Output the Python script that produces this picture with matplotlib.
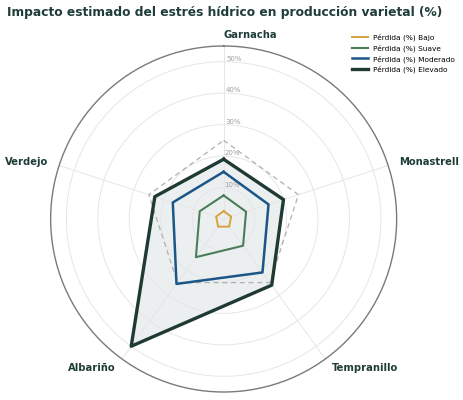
import numpy as np
import matplotlib
matplotlib.use("Agg")
import matplotlib.pyplot as plt

# datos
variedades = ["Garnacha", "Monastrell", "Tempranillo", "Albariño", "Verdejo"]
bajo = [2.5, 2.5, 3, 3, 2.5]
suave = [7.5, 7.5, 10.5, 15, 8]
moderado = [15, 15, 21, 25.5, 17]
elevado = [19, 20, 26, 50, 23]
umbral = [25, 25, 25, 25, 25]
r_ticks = [10, 20, 30, 40, 50]
r_labels = ["10%", "20%", "30%", "40%", "50%"]

series = [
    ("Pérdida (%) Bajo", bajo, "#d4a23f", 1.4),
    ("Pérdida (%) Suave", suave, "#4c7d5a", 1.5),
    ("Pérdida (%) Moderado", moderado, "#1c5689", 1.8),
    ("Pérdida (%) Elevado", elevado, "#1e3a33", 2.4),
]

n = len(variedades)
angulos = np.linspace(0, 2 * np.pi, n, endpoint=False)
cerrar = lambda v: list(v) + [v[0]]
ang_c = cerrar(angulos)

fig = plt.figure(figsize=(4.64, 4.0), dpi=100)
ax = fig.add_axes([0.109, 0.02, 0.746, 0.865], projection="polar")
ax.set_theta_offset(np.pi / 2)
ax.set_theta_direction(-1)
ax.set_ylim(0, 55)

# relleno del escenario elevado
ax.fill(ang_c, cerrar(elevado), color="#e6ebeb", alpha=0.8, zorder=1)
# umbral de referencia
ax.plot(ang_c, cerrar(umbral), color="#b0b0b0", lw=0.9, ls=(0, (4, 3)), zorder=2)

for nombre, vals, col, lw in series:
    ax.plot(ang_c, cerrar(vals), color=col, lw=lw, label=nombre, zorder=3)

ax.set_xticks(angulos)
ax.set_xticklabels([])
ax.set_yticks(r_ticks)
ax.set_yticklabels(r_labels, fontsize=5, color="#a0a0a0")
ax.set_rlabel_position(1)
ax.grid(color="#e6e6e6", lw=0.7)
ax.spines["polar"].set_color("#7a7a7a")
ax.spines["polar"].set_linewidth(1.0)

for a, txt in zip(angulos, variedades):
    ha = "left" if a < np.pi - 1e-6 else "right"
    ax.text(a, 58.5, txt, ha=ha, va="center", fontsize=7.2, fontweight="bold",
            color="#1f3d38")

fig.text(0.015, 0.969, "Impacto estimado del estrés hídrico en producción varietal (%)",
         fontsize=8.8, fontweight="bold", color="#1f3d38", ha="left", va="center")

fig.legend(loc="upper right", bbox_to_anchor=(0.995, 0.933), frameon=False,
           fontsize=5.3, handlelength=2.2, labelspacing=0.45, handletextpad=0.7)

fig.savefig("out.png", dpi=100)
